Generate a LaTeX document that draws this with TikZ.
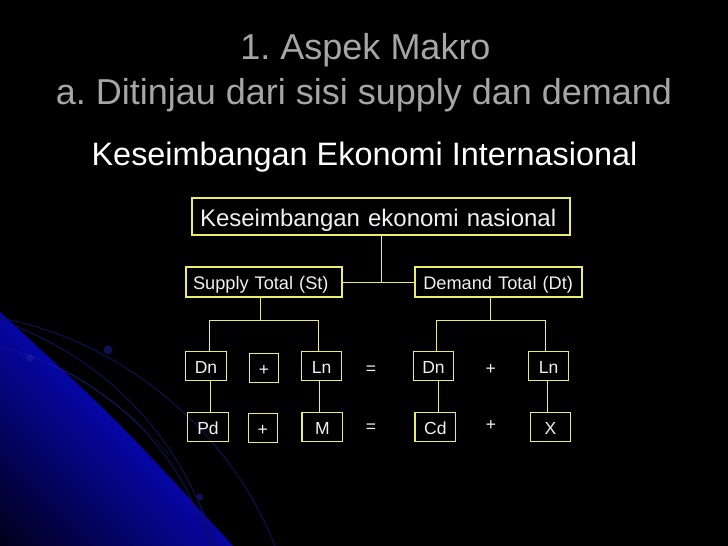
\documentclass[tikz,border=0pt]{standalone}
\usepackage{fontspec}
\setmainfont{Liberation Sans}
\usetikzlibrary{calc}
\definecolor{boxyellow}{RGB}{235,235,110}
\definecolor{titlegray}{RGB}{166,166,166}
\definecolor{boxtext}{RGB}{240,240,240}
\definecolor{edgeblue}{RGB}{6,6,162}
\definecolor{deepblue}{RGB}{0,0,24}
\definecolor{orbit}{RGB}{16,16,84}
\frenchspacing
\begin{document}
\begin{tikzpicture}[x=1pt,y=-1pt,
  ybox/.style={draw=boxyellow, line width=1.3pt, text=boxtext, inner sep=0pt},
  bigbox/.style={ybox, font=\fontsize{24}{28}\selectfont, text height=19.5pt, text depth=0.5pt, minimum height=37pt, align=left},
  midbox/.style={ybox, font=\fontsize{18.2}{22}\selectfont, text height=15pt, text depth=0.4pt, minimum height=30pt, align=left},
  smallbox/.style={ybox, font=\fontsize{17.5}{21}\selectfont, text height=14.5pt, text depth=0pt, minimum height=29pt, minimum width=40.5pt},
  optext/.style={text=boxtext, font=\fontsize{17.5}{21}\selectfont, anchor=base, inner sep=0pt},
  titletext/.style={anchor=base, text=titlegray, font=\fontsize{36}{42}\selectfont, inner sep=0pt},
  subtext/.style={anchor=base, text=white, font=\fontsize{32.4}{38}\selectfont, inner sep=0pt},
  conn/.style={draw=boxyellow, line width=1pt},
  orbitline/.style={draw=orbit, line width=1pt}
]
% background
\useasboundingbox (0,0) rectangle (728,546);
\fill[black] (0,0) rectangle (728,546);
\begin{scope}
  \clip (0,312) .. controls (121.5,424) .. (233,546) -- (0,546) -- cycle;
  \foreach \c in {300,304,...,552}{
    \pgfmathsetmacro\p{max(0,min(100,(\c-312)/234*100))}
    \fill[deepblue!\p!edgeblue] (-10,\c-10) -- (320,\c+320) -- (320,\c+324.6) -- (-10,\c-5.4) -- cycle;
  }
\end{scope}
\draw[orbitline] (0,318) .. controls (120,340) and (230,430) .. (275,546);
\draw[orbitline] (15,326) .. controls (100,360) and (180,430) .. (215,546);
\draw[orbitline] (60,368) .. controls (120,400) and (180,450) .. (210,546);
\draw[orbitline, draw=edgeblue!80!white, opacity=0.2] (0,347) .. controls (60,360) and (120,400) .. (170,455);
\fill[orbit] (108,350) circle (4.5);
\fill[orbit] (200,497) circle (3.5);
\fill[edgeblue!70!white, opacity=0.2] (30,358) circle (3.5);

% titles
\node[titletext] (t1) at (365.5,59.5) {1. Aspek Makro};
\node[titletext] (t2) at (364,104) {a. Ditinjau dari sisi supply dan demand};
\node[subtext] (t3) at (364.5,165.5) {Keseimbangan Ekonomi Internasional};

% boxes
\node[bigbox, text width=378pt] (K) at (381,216.5) {\hspace*{8pt}Keseimbangan ekonomi nasional};
\node[midbox, text width=156pt] (St) at (264,282) {\hspace*{7pt}Supply Total (St)};
\node[midbox, text width=167pt] (Dt) at (498.5,282) {\hspace*{8.3pt}Demand Total (Dt)};

\node[smallbox] (Dn1) at (206,366) {Dn};
\node[smallbox, minimum width=29.4pt] (P1) at (264,367.8) {+};
\node[smallbox] (Ln1) at (321.5,366) {Ln};
\node[optext] (E1) at (371,374.1) {=};
\node[smallbox] (Dn2) at (433.5,366) {Dn};
\node[optext] (P2) at (490.7,374) {+};
\node[smallbox] (Ln2) at (548.5,366) {Ln};

\node[smallbox, minimum width=41.4pt] (Pd) at (208,427) {Pd};
\node[smallbox, minimum width=29pt] (P3) at (262.8,427.8) {+};
\node[smallbox] (M) at (322.3,427) {M};
\node[optext] (E2) at (371,432.5) {=};
\node[smallbox] (Cd) at (435.3,427) {Cd};
\node[optext] (P4) at (491,430.8) {+};
\node[smallbox] (X) at (550.5,427) {X};

% connectors
\coordinate (sj) at (260.3,320.3);
\coordinate (dj) at (490.3,320.3);
\draw[conn] (K.south) -- (K.south |- St.east);
\draw[conn] (St.east) -- (Dt.west);
\draw[conn] (St.south -| sj) -- (sj);
\draw[conn] ($(Dn1.north)+(3.3,0)$) |- (sj) -| ($(Ln1.north)+(-3.2,0)$);
\draw[conn] (Dt.south -| dj) -- (dj);
\draw[conn] ($(Dn2.north)+(2.8,0)$) |- (dj) -| ($(Ln2.north)+(-2.8,0)$);
\coordinate (c1) at ($(Dn1.south)+(4.7,0)$);
\coordinate (c2) at ($(Ln1.south)+(-2.2,0)$);
\coordinate (c3) at ($(Dn2.south)+(4.8,0)$);
\coordinate (c4) at ($(Ln2.south)+(-1.2,0)$);
\draw[conn] (c1) -- (c1 |- Pd.north);
\draw[conn] (c2) -- (c2 |- M.north);
\draw[conn] (c3) -- (c3 |- Cd.north);
\draw[conn] (c4) -- (c4 |- X.north);
\end{tikzpicture}
\end{document}
